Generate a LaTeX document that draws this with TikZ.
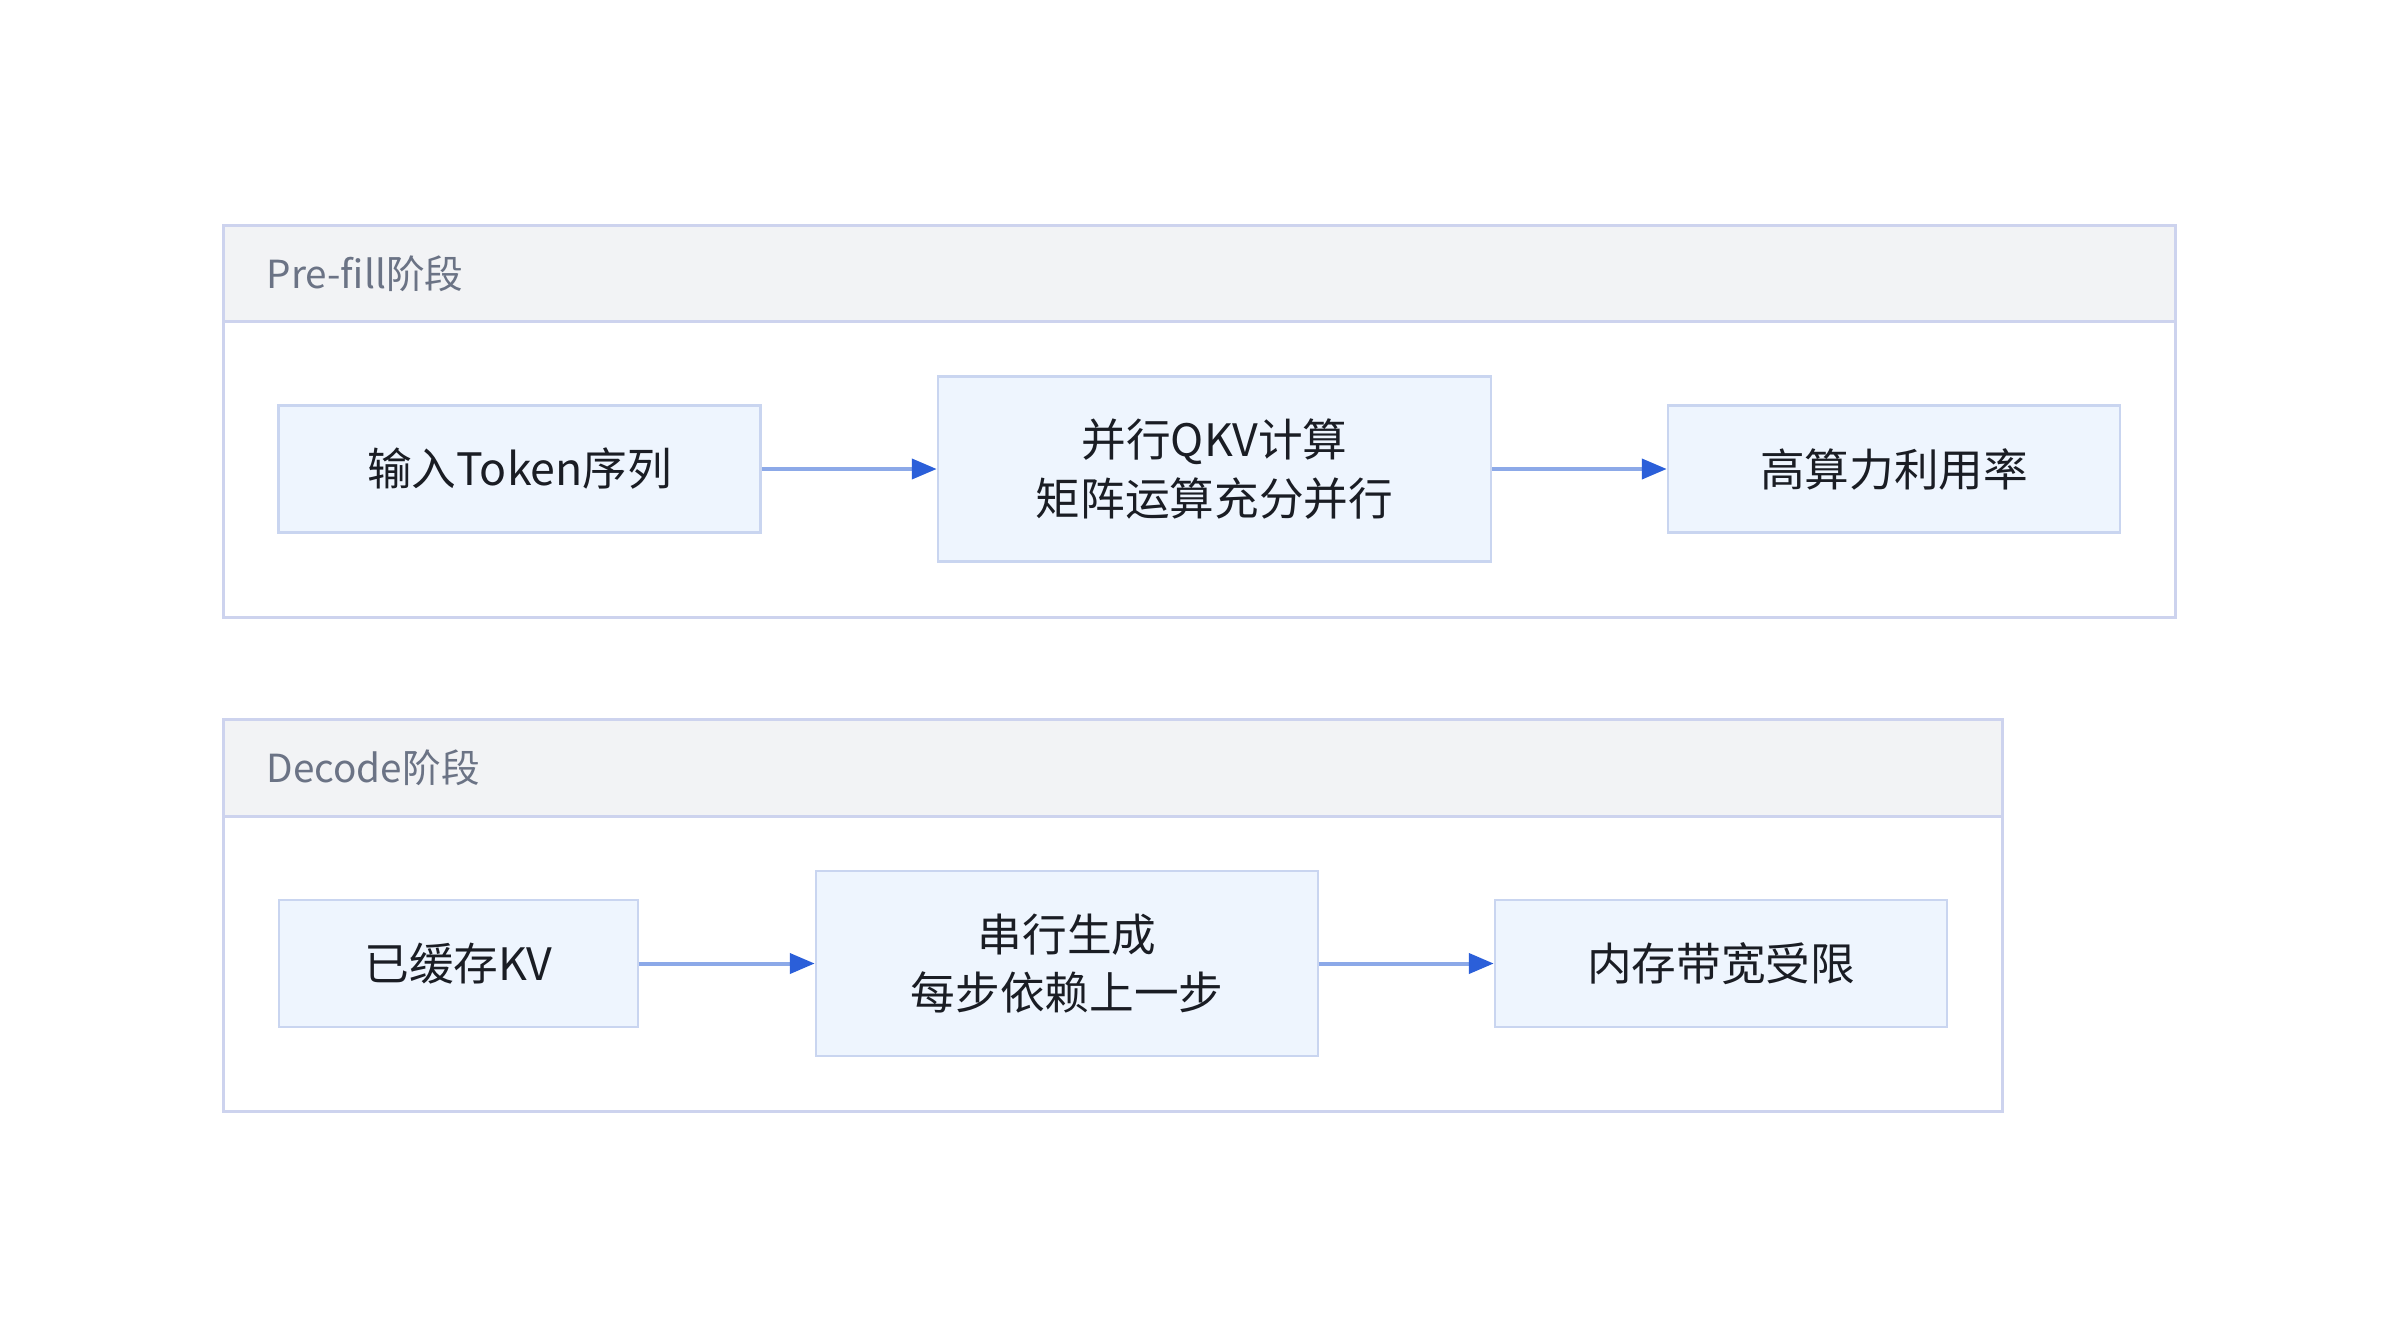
\documentclass[tikz,border=0pt]{standalone}
\usepackage{fontspec}
\newfontfamily\cjkf{Noto Sans CJK SC}
\usetikzlibrary{arrows.meta}
\definecolor{frameC}{HTML}{CDD3EE}
\definecolor{headC}{HTML}{F2F3F5}
\definecolor{boxFill}{HTML}{EEF5FE}
\definecolor{boxLine}{HTML}{C9D5F0}
\definecolor{lineC}{HTML}{8CA9E8}
\definecolor{tipC}{HTML}{2B5FD9}
\definecolor{titleC}{HTML}{6B7385}
\definecolor{textC}{HTML}{1A1D24}
\tikzset{
  frame/.style={draw=frameC, line width=0.9pt, rectangle, inner sep=0pt},
  headband/.style={fill=headC, draw=frameC, line width=0.9pt, rectangle, inner sep=0pt},
  stepbox/.style={draw=boxLine, fill=boxFill, line width=0.75pt, rectangle, inner sep=0pt,
    align=center, font=\cjkf\fontsize{13.4pt}{17.6pt}\selectfont, text=textC},
  ttl/.style={anchor=west, inner sep=0pt, font=\cjkf\fontsize{11.6pt}{14pt}\selectfont, text=titleC},
  flow/.style={draw=lineC, line width=1.2pt, -{Triangle[length=7.5pt,width=6pt,color=tipC]}}
}
\begin{document}
\begin{tikzpicture}[x=0.3pt,y=-0.3pt]
\useasboundingbox[fill=white] (0,0) rectangle (2400,1336);
% Pre-fill container
\node[headband, minimum width={1951.5*0.3pt}, minimum height={96*0.3pt}] (Phead) at (1199.25,273) {};
\node[frame, minimum width={1951.5*0.3pt}, minimum height={392*0.3pt}] (Pframe) at (1199.25,421) {};
\node[ttl] (Ptitle) at (266,274) {Pre-fill阶段};
% Decode container
\node[headband, minimum width={1778.5*0.3pt}, minimum height={97*0.3pt}] (Dhead) at (1112.75,767.5) {};
\node[frame, minimum width={1778.5*0.3pt}, minimum height={392*0.3pt}] (Dframe) at (1112.75,915) {};
\node[ttl] (Dtitle) at (266,768) {Decode阶段};
% Pre-fill steps
\node[stepbox, minimum width={482*0.3pt}, minimum height={127*0.3pt}] (A) at (519.6,469) {输入Token序列};
\node[stepbox, minimum width={553*0.3pt}, minimum height={185*0.3pt}] (B) at (1214.5,469) {并行QKV计算\\矩阵运算充分并行};
\node[stepbox, minimum width={452*0.3pt}, minimum height={127*0.3pt}] (C) at (1894,469) {高算力利用率};
% Decode steps
\node[stepbox, minimum width={359*0.3pt}, minimum height={127*0.3pt}] (D) at (458.3,963.5) {已缓存KV};
\node[stepbox, minimum width={502*0.3pt}, minimum height={185*0.3pt}] (E) at (1067,963.5) {串行生成\\每步依赖上一步};
\node[stepbox, minimum width={452*0.3pt}, minimum height={127*0.3pt}] (F) at (1721,963.5) {内存带宽受限};
% connectors
\draw[flow] (A.east) -- (B.west);
\draw[flow] (B.east) -- (C.west);
\draw[flow] (D.east) -- (E.west);
\draw[flow] (E.east) -- (F.west);
\end{tikzpicture}
\end{document}
